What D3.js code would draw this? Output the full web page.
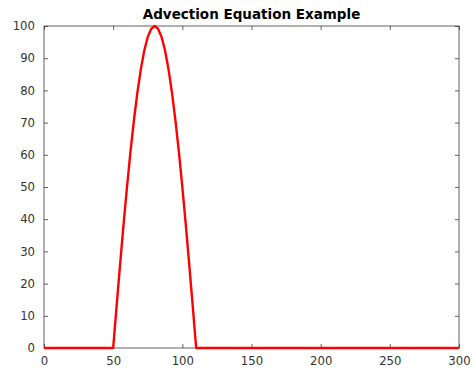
<!DOCTYPE html>
<html>
<head>
<meta charset="utf-8">
<script src="https://cdn.jsdelivr.net/npm/d3@7"></script>
<style>
  body { margin: 0; background: #fff; }
  svg { display: block; font-family: "DejaVu Sans", sans-serif; }
  .tick text { fill: #333; font-size: 11.7px; font-family: "DejaVu Sans", sans-serif; }
  .title { font-size: 13.5px; font-weight: bold; fill: #000; }
</style>
</head>
<body>
<svg id="chart" width="475" height="372"></svg>
<script>
// values
let xValues = [0, 50, 52.5, 55, 57.5, 60, 62.5, 65, 67.5, 70, 72.5, 75, 77.5, 80,
               82.5, 85, 87.5, 90, 92.5, 95, 97.5, 100, 102.5, 105, 107.5, 110, 300];
let uValues = [0, 0, 13.1, 25.9, 38.3, 50, 60.9, 70.7, 79.3, 86.6, 92.4, 96.6, 99.1, 100,
               99.1, 96.6, 92.4, 86.6, 79.3, 70.7, 60.9, 50, 38.3, 25.9, 13.1, 0, 0];
let xTicks = [0, 50, 100, 150, 200, 250, 300];
let yTicks = [0, 10, 20, 30, 40, 50, 60, 70, 80, 90, 100];

let margin = {top: 26, right: 16, bottom: 24, left: 44};
let width = 475 - margin.left - margin.right;
let height = 372 - margin.top - margin.bottom;

let svg = d3.select('#chart');
let g = svg.append('g')
    .attr('transform', `translate(${margin.left},${margin.top})`);

let x = d3.scaleLinear().domain([0, 300]).range([0, width]);
let y = d3.scaleLinear().domain([0, 100]).range([height, 0]);

let axisColor = '#3a3a3a';

// box + inward ticks, MATLAB style
function styleAxis(sel) {
    sel.select('.domain').remove();
    sel.selectAll('.tick line').attr('stroke', axisColor).attr('stroke-width', 0.8);
}

g.append('g')
    .attr('transform', `translate(0,${height})`)
    .call(d3.axisBottom(x).tickValues(xTicks).tickSize(-4).tickPadding(9))
    .call(styleAxis);

g.append('g')
    .call(d3.axisTop(x).tickValues(xTicks).tickSize(-4).tickFormat(''))
    .call(styleAxis);

g.append('g')
    .call(d3.axisLeft(y).tickValues(yTicks).tickSize(-4).tickPadding(9))
    .call(styleAxis);

g.append('g')
    .attr('transform', `translate(${width},0)`)
    .call(d3.axisRight(y).tickValues(yTicks).tickSize(-4).tickFormat(''))
    .call(styleAxis);

g.append('rect')
    .attr('x', 0)
    .attr('y', 0)
    .attr('width', width)
    .attr('height', height)
    .attr('fill', 'none')
    .attr('stroke', axisColor)
    .attr('stroke-width', 0.8);

let line = d3.line()
    .x((d, i) => x(xValues[i]))
    .y(d => y(d));

g.append('path')
    .datum(uValues)
    .attr('d', line)
    .attr('fill', 'none')
    .attr('stroke', '#ff0000')
    .attr('stroke-width', 2.4)
    .attr('stroke-linejoin', 'round');

svg.append('text')
    .attr('class', 'title')
    .attr('x', margin.left + width / 2)
    .attr('y', 19)
    .attr('text-anchor', 'middle')
    .text('Advection Equation Example');
</script>
</body>
</html>
